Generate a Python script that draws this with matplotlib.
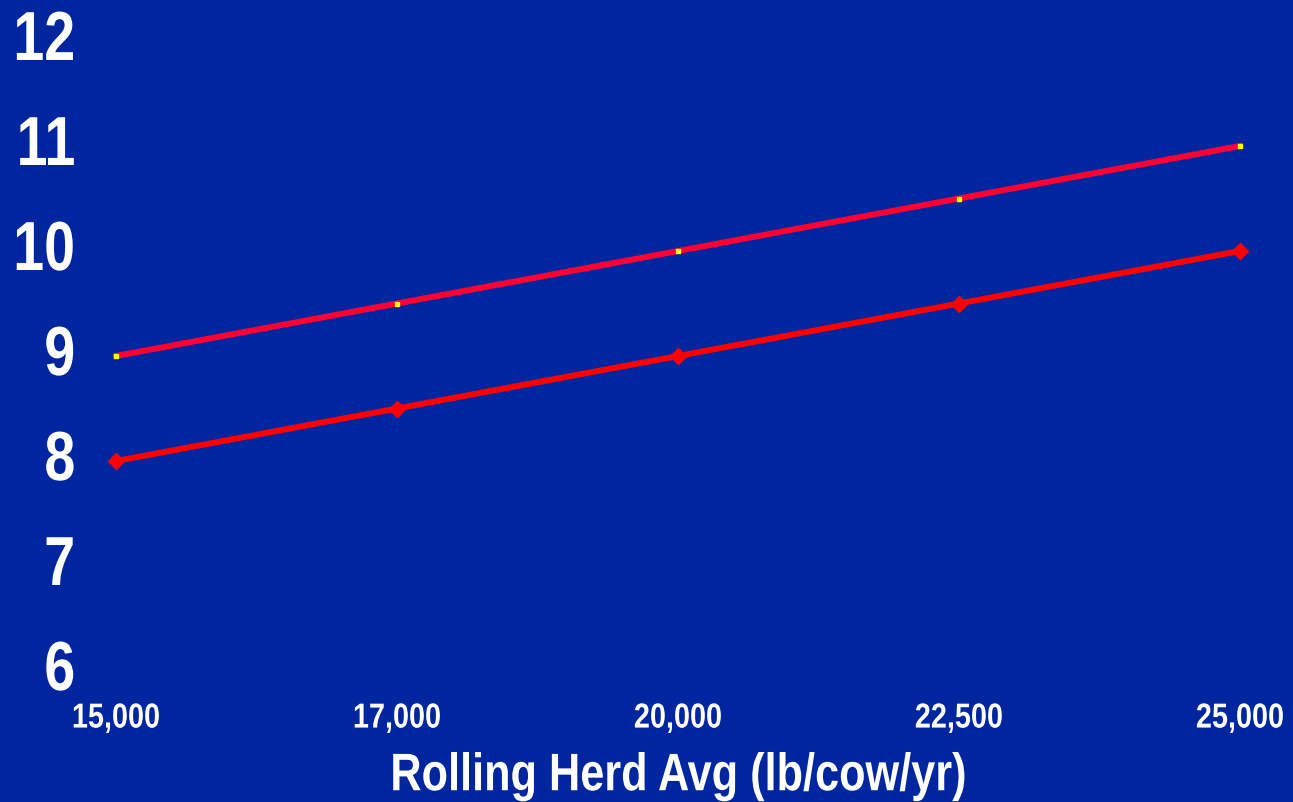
import matplotlib.pyplot as plt
from matplotlib import patheffects
from matplotlib.transforms import Affine2D

# Herd average categories and the two ration lines
herd_avg = ['15,000', '17,000', '20,000', '22,500', '25,000']
upper_line = [9, 9.5, 10, 10.5, 11]
lower_line = [8, 8.5, 9, 9.5, 10]
y_ticks = [6, 7, 8, 9, 10, 11, 12]

bg = '#00269F'
plt.rcParams['font.family'] = ['Liberation Sans', 'DejaVu Sans']


class Condensed(patheffects.AbstractPathEffect):
    """Squeeze glyphs horizontally about the left, centre or right of the text."""

    def __init__(self, sx, anchor='center', dy=0):
        super().__init__()
        self.sx = sx
        self.anchor = anchor
        self.dy = dy

    def draw_path(self, renderer, gc, tpath, affine, rgbFace=None):
        xs = tpath.vertices[:, 0]
        x0 = {'left': xs.min(), 'center': (xs.min() + xs.max()) / 2,
              'right': xs.max()}[self.anchor]
        squeeze = Affine2D().translate(-x0, 0).scale(self.sx, 1).translate(x0, 0)
        shift = Affine2D().translate(0, self.dy)
        renderer.draw_path(gc, tpath, squeeze + affine + shift, rgbFace)


fig = plt.figure(figsize=(12.93, 8.02), dpi=100, facecolor=bg)
ax = fig.add_axes([116 / 1293, 131 / 802, 1124 / 1293, 630 / 802], facecolor=bg)

x = list(range(len(herd_avg)))
ax.plot(x, upper_line, color='#FF0033', lw=4.3, marker='s', ms=3,
        mfc='#FFFF00', mec='#FFFF00', clip_on=False, zorder=3)
ax.plot(x, lower_line, color='#FF0000', lw=4.3, marker='D', ms=8,
        mfc='#FF0000', mec='#FF0000', clip_on=False, zorder=3)

ax.set_xlim(0, len(herd_avg) - 1)
ax.set_ylim(6, 12)
ax.set_xticks(x)
ax.set_xticklabels(herd_avg, fontsize=25, fontweight='bold', color='white')
ax.set_yticks(y_ticks)
ax.set_yticklabels([str(v) for v in y_ticks], fontsize=50, fontweight='bold', color='white')
ax.tick_params(axis='x', length=0, pad=22)
ax.tick_params(axis='y', length=0, pad=29)
for s in ax.spines.values():
    s.set_visible(False)

for lbl in ax.get_xticklabels():
    lbl.set_path_effects([Condensed(0.83, 'center')])
for lbl in ax.get_yticklabels():
    lbl.set_path_effects([Condensed(0.8, 'right', dy=6)])

ax.set_xlabel('Rolling Herd Avg (lb/cow/yr)', fontsize=38, fontweight='bold',
              color='white', labelpad=12)
ax.xaxis.label.set_path_effects([Condensed(0.82, 'center')])

fig.savefig('out.png', dpi=100, facecolor=bg)
